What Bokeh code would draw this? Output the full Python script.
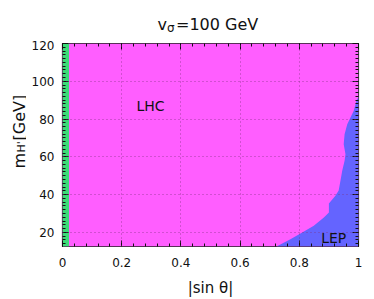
import math
from bokeh.plotting import figure
from bokeh.models import LinearAxis, Label, Range1d, FixedTicker
from bokeh.layouts import column, row
from bokeh.embed import file_html
from bokeh.resources import INLINE

# ---- data ----
sin_range = [0.0, 1.0]
mh_range = [12.5, 120.0]
green_edge = [0.022]          # excluded strip at small |sin θ|
lep_sin = [0.723, 0.770, 0.804, 0.849, 0.883, 0.900, 0.900, 0.922, 0.933,
           0.941, 0.945, 0.953, 0.956, 0.950, 0.953, 0.962, 0.973, 0.984,
           0.993, 1.0]
lep_mh = [12.5, 16.4, 19.4, 23.5, 27.8, 30.5, 35.3, 39.4, 42.1,
          49.0, 52.6, 57.9, 61.4, 66.7, 72.0, 77.3, 80.8, 84.4,
          89.7, 91.8]
x_ticks = [0, 0.2, 0.4, 0.6, 0.8, 1.0]
y_ticks = [20, 40, 60, 80, 100, 120]
x_tick_labels = {0: "0", 0.2: "0.2", 0.4: "0.4", 0.6: "0.6", 0.8: "0.8", 1.0: "1"}

MAGENTA = "#FF5EFF"
BLUE = "#6464FF"
GREEN = "#3CDC78"
FONT = "DejaVu Sans"
INK = "#111111"

TOTAL_W = 366
TITLE_H = 40
YLAB_W = 26
MAIN_H = 259
BORDER_TOP = 3
BORDER_BOTTOM = 53

def text_fig(w, h, top=0, bottom=0):
    f = figure(width=w, height=h, output_backend="svg", toolbar_location=None,
               x_range=Range1d(0, 1), y_range=Range1d(0, 1),
               min_border_left=0, min_border_right=0,
               min_border_top=top, min_border_bottom=bottom,
               x_axis_location=None, y_axis_location=None, title=None)
    f.outline_line_color = None
    f.xgrid.visible = False
    f.ygrid.visible = False
    f.background_fill_color = "white"
    f.border_fill_color = "white"
    return f

def slabel(f, x, y, text, size, angle=0.0):
    f.add_layout(Label(x=x, y=y, x_units="screen", y_units="screen", text=text,
                       text_font=FONT, text_font_size=size, text_color=INK,
                       text_baseline="alphabetic", text_align="left", angle=angle))

# ---- title row:  v_σ=100 GeV ----
tf = text_fig(TOTAL_W, TITLE_H)
slabel(tf, 157.0, 16.0, "v", "16px")
slabel(tf, 166.5, 13.0, "σ", "12px")
slabel(tf, 175.5, 16.0, "=100 GeV", "16px")

# ---- y label:  m_H'[GeV]  (frame spans the same rows as the main frame) ----
yf = text_fig(YLAB_W, MAIN_H, BORDER_TOP, BORDER_BOTTOM)
a = math.pi / 2
slabel(yf, 18.5, 78.0, "m", "16px", a)
slabel(yf, 20.5, 94.0, "H'", "11px", a)
slabel(yf, 18.5, 106.0, "[GeV]", "16px", a)

# ---- main plot ----
p = figure(width=TOTAL_W - YLAB_W, height=MAIN_H, output_backend="svg",
           toolbar_location=None,
           x_range=Range1d(*sin_range), y_range=Range1d(*mh_range),
           min_border_left=36, min_border_right=8, min_border_top=BORDER_TOP,
           min_border_bottom=BORDER_BOTTOM, title=None, x_axis_location=None,
           y_axis_location=None)
p.background_fill_color = "white"
p.border_fill_color = "white"
p.outline_line_color = "#222222"
p.outline_line_width = 1.2

p.quad(left=[sin_range[0]], right=[sin_range[1]], bottom=[mh_range[0]], top=[mh_range[1]],
       fill_color=MAGENTA, line_color=None)
p.quad(left=[sin_range[0]], right=green_edge, bottom=[mh_range[0]], top=[mh_range[1]],
       fill_color=GREEN, line_color=None)
p.patch(lep_sin + [sin_range[1]], lep_mh + [mh_range[0]], fill_color=BLUE, line_color=None)

def make_axis(labels):
    ax = LinearAxis()
    ax.axis_line_color = None
    ax.major_tick_in = 6
    ax.major_tick_out = 0
    ax.minor_tick_in = 3
    ax.minor_tick_out = 0
    ax.major_tick_line_color = INK
    ax.minor_tick_line_color = INK
    ax.major_label_text_font = FONT
    if labels:
        ax.major_label_text_font_size = "12px"
        ax.major_label_text_color = INK
    else:
        # mirrored tick marks only: labels are not painted
        ax.major_label_text_font_size = "1px"
        ax.major_label_text_color = None
        ax.major_label_standoff = 0
    return ax

def minor_list(lo, hi, step):
    out = []
    v = lo
    while v <= hi + 1e-9:
        out.append(round(v, 6))
        v += step
    return out

x_minor = minor_list(0.0, 1.0, 0.04)
y_minor = minor_list(14.0, 120.0, 2.0)

for loc, lab in (("below", True), ("above", False)):
    ax = make_axis(lab)
    ax.ticker = FixedTicker(ticks=x_ticks, minor_ticks=x_minor)
    if lab:
        ax.major_label_overrides = x_tick_labels
        ax.major_label_standoff = 11
        ax.axis_label = "|sin θ|"
        ax.axis_label_text_font = FONT
        ax.axis_label_text_font_size = "15px"
        ax.axis_label_text_font_style = "normal"
        ax.axis_label_text_color = INK
        ax.axis_label_standoff = 9
    p.add_layout(ax, loc)

for loc, lab in (("left", True), ("right", False)):
    ax = make_axis(lab)
    ax.ticker = FixedTicker(ticks=y_ticks, minor_ticks=y_minor)
    if lab:
        ax.major_label_standoff = 8
    p.add_layout(ax, loc)

p.xgrid.ticker = FixedTicker(ticks=x_ticks)
p.ygrid.ticker = FixedTicker(ticks=y_ticks)
for g in (p.xgrid, p.ygrid):
    g.grid_line_color = "#7a307a"
    g.grid_line_alpha = 0.7
    g.grid_line_dash = "1 3"
    g.grid_line_width = 1
    g.level = "overlay"

p.add_layout(Label(x=0.25, y=87.0, text="LHC", text_font=FONT, text_font_size="14px",
                   text_color=INK, text_baseline="alphabetic"))
p.add_layout(Label(x=0.874, y=17.2, text="LEP", text_font=FONT, text_font_size="14px",
                   text_color=INK, text_baseline="alphabetic"))

layout = column(tf, row(yf, p, spacing=0), spacing=0)
open("out.html", "w").write(file_html(layout, INLINE))
